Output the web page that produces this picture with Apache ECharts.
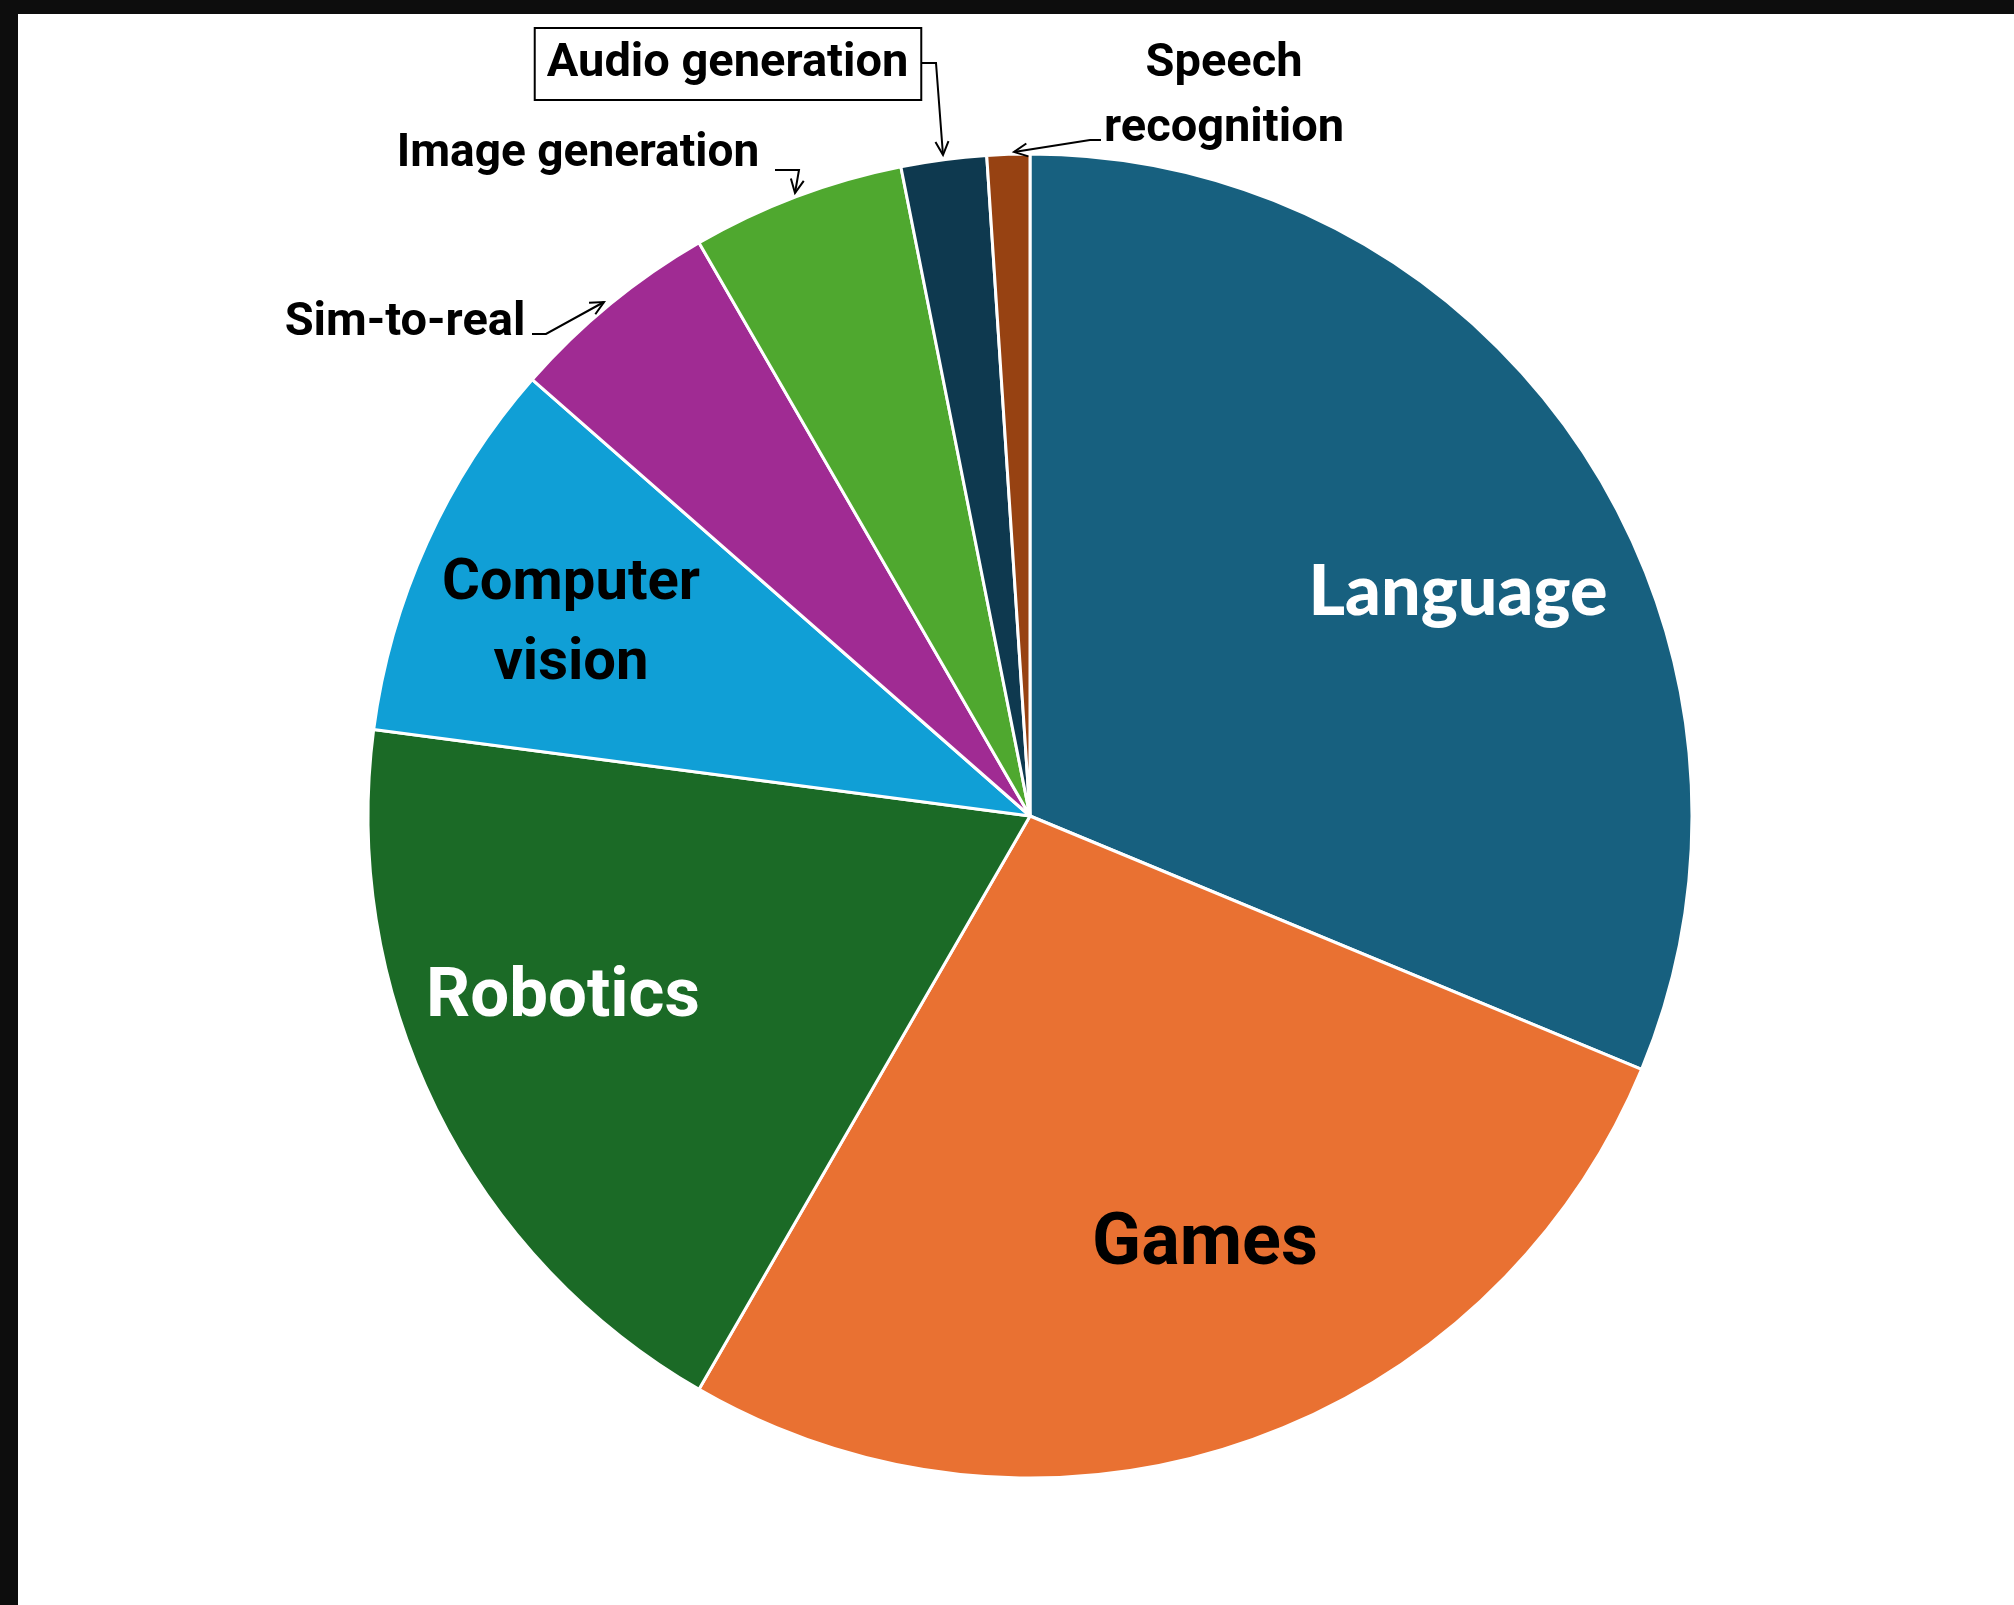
<!DOCTYPE html>
<html>
<head>
<meta charset="utf-8">
<script src="https://cdn.jsdelivr.net/npm/echarts@6/dist/echarts.min.js"></script>
<style>
  html, body { margin: 0; padding: 0; background: #fff; }
  #chart { position: absolute; left: 0; top: 0; width: 2014px; height: 1605px; background: #fff; }
  .frame { position: absolute; background: #0d0d0d; }
</style>
</head>
<body>
<div id="chart"></div>
<div class="frame" style="left:0;top:0;width:2014px;height:14px"></div>
<div class="frame" style="left:0;top:0;width:18px;height:1605px"></div>
<script>
// share of papers by domain
const categories = [
  "Language", "Games", "Robotics", "Computer vision",
  "Sim-to-real", "Image generation", "Audio generation", "Speech recognition"
];
const values = [60, 52, 36, 18, 10, 10, 4, 2];
const colors = ["#17607f", "#e97132", "#1b6a26", "#109fd6", "#a02b93", "#4fa82f", "#0e394f", "#974212"];

// label placement (page px) and text look
const labelSpots = {
  "Language": [1458, 592],
  "Games": [1205, 1246],
  "Robotics": [563, 999],
  "Computer vision": [571, 624],
  "Sim-to-real": [405, 323],
  "Image generation": [578, 154],
  "Audio generation": [728, 64],
  "Speech recognition": [1224, 97]
};
const big = (family, size, color, weight) => ({
  position: "inside", fontFamily: family, fontSize: size, fontWeight: weight || "bold", color: color
});
const small = (extra) => Object.assign({
  position: "outside", fontFamily: "Roboto", fontSize: 47, fontWeight: "bold", color: "#000"
}, extra || {});
const labelStyles = {
  "Language": big("Lato", 70, "#fff", 900),
  "Games": big("Roboto", 72, "#000"),
  "Robotics": big("Roboto", 69, "#fff"),
  "Computer vision": Object.assign(big("Roboto", 58, "#000"), { formatter: "Computer\nvision", lineHeight: 80 }),
  "Sim-to-real": small(),
  "Image generation": small({ fontSize: 46 }),
  "Audio generation": small({
    backgroundColor: "#fff", borderColor: "#000", borderWidth: 2,
    padding: [14, 12, 6, 11], lineHeight: 50
  }),
  "Speech recognition": small({ formatter: "Speech\nrecognition", lineHeight: 65 })
};

// callout lines: slice edge -> elbow -> label
const callouts = {
  "Sim-to-real": [[604, 302], [546, 334], [532, 334]],
  "Image generation": [[795, 193], [799, 170], [775, 170]],
  "Audio generation": [[943, 155], [936, 63], [922, 63]],
  "Speech recognition": [[1014, 152], [1090, 140], [1101, 140]]
};

function arrowHead(pts) {
  const tip = pts[0], from = pts[1];
  const ang = Math.atan2(tip[1] - from[1], tip[0] - from[0]);
  const len = 15, spread = 0.45;
  const w1 = [tip[0] - len * Math.cos(ang - spread), tip[1] - len * Math.sin(ang - spread)];
  const w2 = [tip[0] - len * Math.cos(ang + spread), tip[1] - len * Math.sin(ang + spread)];
  return {
    type: "polyline", z: 100,
    shape: { points: [w1, tip, w2] },
    style: { stroke: "#000", lineWidth: 2, fill: null }
  };
}

const chart = echarts.init(document.getElementById("chart"), null, { renderer: "canvas" });

const option = {
  backgroundColor: "#fff",
  animation: false,
  graphic: Object.keys(callouts).map((k) => arrowHead(callouts[k])),
  series: [
    {
      type: "pie",
      center: [1030, 816],
      radius: 662,
      startAngle: 90,
      clockwise: true,
      avoidLabelOverlap: false,
      silent: true,
      itemStyle: { borderColor: "#fff", borderWidth: 3 },
      labelLine: { show: false, lineStyle: { color: "#000", width: 2 } },
      data: categories.map((name, i) => ({
        name: name,
        value: values[i],
        itemStyle: { color: colors[i] },
        label: labelStyles[name],
        labelLine: { show: !!callouts[name] }
      })),
      labelLayout: function (params) {
        const name = categories[params.dataIndex];
        const spot = labelSpots[name];
        const out = { x: spot[0], y: spot[1], align: "center", verticalAlign: "middle" };
        if (callouts[name]) out.labelLinePoints = callouts[name];
        return out;
      }
    }
  ]
};

chart.setOption(option);
</script>
</body>
</html>
